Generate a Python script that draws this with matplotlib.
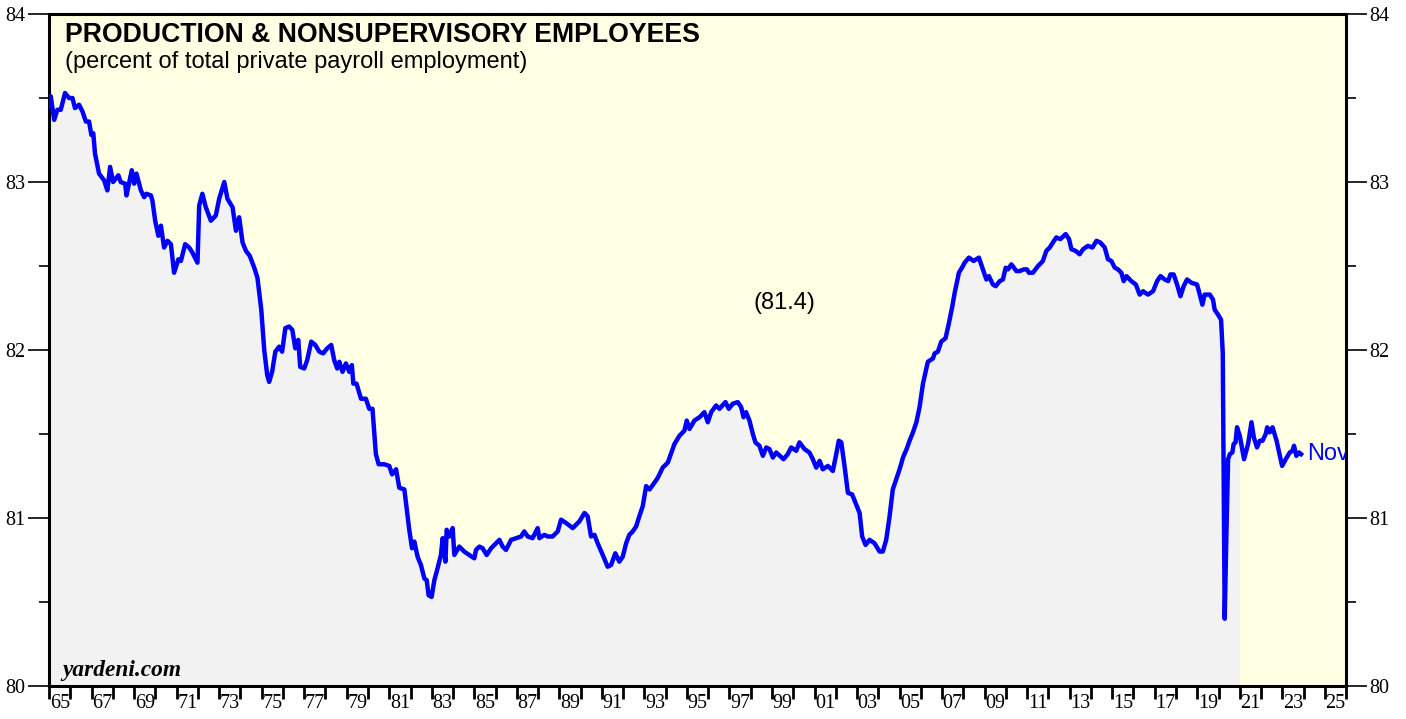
import matplotlib.pyplot as plt
import numpy as np

# Produktions- und nicht-leitende Angestellte, Anteil an privater Beschäftigung (%)
years = [
    1965.00, 1965.08, 1965.24, 1965.39, 1965.55, 1965.75, 1965.94, 1966.10, 1966.22, 1966.41,
    1966.57, 1966.73, 1966.88, 1966.99, 1967.08, 1967.16, 1967.35, 1967.59, 1967.74, 1967.87,
    1968.01, 1968.26, 1968.37, 1968.58, 1968.64, 1968.89, 1969.00, 1969.11, 1969.32, 1969.47,
    1969.58, 1969.79, 1969.86, 1969.99, 1970.14, 1970.26, 1970.41, 1970.57, 1970.73, 1970.88,
    1971.08, 1971.20, 1971.40, 1971.59, 1971.74, 1971.98, 1972.06, 1972.21, 1972.37, 1972.61,
    1972.84, 1973.00, 1973.24, 1973.39, 1973.63, 1973.79, 1973.94, 1974.10, 1974.26, 1974.44,
    1974.65, 1974.80, 1974.98, 1975.12, 1975.26, 1975.35, 1975.49, 1975.64, 1975.82, 1975.96,
    1976.11, 1976.29, 1976.44, 1976.58, 1976.72, 1976.81, 1977.00, 1977.14, 1977.33, 1977.52,
    1977.71, 1977.89, 1978.08, 1978.27, 1978.41, 1978.55, 1978.65, 1978.80, 1978.96, 1979.12,
    1979.24, 1979.31, 1979.46, 1979.67, 1979.90, 1980.06, 1980.21, 1980.37, 1980.50, 1980.76,
    1981.00, 1981.13, 1981.32, 1981.47, 1981.71, 1981.94, 1982.07, 1982.18, 1982.33, 1982.49,
    1982.65, 1982.76, 1982.85, 1982.99, 1983.12, 1983.27, 1983.43, 1983.51, 1983.64, 1983.70,
    1983.82, 1983.98, 1984.06, 1984.29, 1984.53, 1984.76, 1985.00, 1985.08, 1985.24, 1985.39,
    1985.58, 1985.79, 1986.02, 1986.18, 1986.33, 1986.49, 1986.73, 1986.96, 1987.20, 1987.35,
    1987.51, 1987.74, 1987.98, 1988.06, 1988.29, 1988.45, 1988.68, 1988.92, 1989.08, 1989.32,
    1989.63, 1989.94, 1990.18, 1990.33, 1990.49, 1990.65, 1990.80, 1991.04, 1991.27, 1991.43,
    1991.63, 1991.82, 1991.98, 1992.14, 1992.29, 1992.45, 1992.61, 1992.76, 1992.92, 1993.08,
    1993.24, 1993.47, 1993.63, 1993.86, 1994.10, 1994.41, 1994.65, 1994.88, 1994.99, 1995.12,
    1995.35, 1995.59, 1995.82, 1995.98, 1996.14, 1996.37, 1996.53, 1996.81, 1996.97, 1997.15,
    1997.39, 1997.55, 1997.66, 1997.78, 1997.94, 1998.10, 1998.22, 1998.41, 1998.57, 1998.73,
    1998.88, 1999.04, 1999.20, 1999.54, 1999.74, 1999.90, 2000.14, 2000.29, 2000.53, 2000.76,
    2000.92, 2001.08, 2001.24, 2001.39, 2001.63, 2001.86, 2002.02, 2002.14, 2002.26, 2002.41,
    2002.57, 2002.77, 2002.93, 2003.12, 2003.24, 2003.40, 2003.59, 2003.82, 2004.06, 2004.21,
    2004.37, 2004.53, 2004.68, 2004.84, 2005.00, 2005.16, 2005.33, 2005.47, 2005.63, 2005.79,
    2005.94, 2006.10, 2006.33, 2006.57, 2006.65, 2006.80, 2006.96, 2007.16, 2007.32, 2007.48,
    2007.59, 2007.79, 2007.98, 2008.06, 2008.26, 2008.48, 2008.73, 2008.92, 2009.08, 2009.20,
    2009.39, 2009.52, 2009.71, 2009.86, 2009.99, 2010.10, 2010.26, 2010.49, 2010.65, 2010.84,
    2010.99, 2011.08, 2011.27, 2011.51, 2011.74, 2011.90, 2012.06, 2012.21, 2012.37, 2012.56,
    2012.81, 2012.97, 2013.08, 2013.28, 2013.47, 2013.63, 2013.86, 2014.07, 2014.26, 2014.44,
    2014.65, 2014.80, 2014.96, 2015.12, 2015.27, 2015.43, 2015.54, 2015.67, 2015.90, 2016.11,
    2016.29, 2016.45, 2016.68, 2016.92, 2017.11, 2017.27, 2017.47, 2017.63, 2017.74, 2017.89,
    2018.05, 2018.21, 2018.36, 2018.52, 2018.73, 2018.99, 2019.12, 2019.24, 2019.35, 2019.59,
    2019.74, 2019.82, 2019.98, 2020.12, 2020.20, 2020.29, 2020.37, 2020.45, 2020.53, 2020.65,
    2020.71, 2020.80, 2020.87, 2021.00, 2021.20, 2021.39, 2021.55, 2021.66, 2021.81, 2021.94,
    2022.07, 2022.22, 2022.29, 2022.41, 2022.54, 2022.73, 2022.85, 2022.99, 2023.16, 2023.35,
    2023.48, 2023.55, 2023.66, 2023.79, 2023.88,
]
share = [
    83.45, 83.51, 83.37, 83.43, 83.43, 83.53, 83.50, 83.50, 83.44, 83.46,
    83.42, 83.36, 83.36, 83.28, 83.29, 83.17, 83.05, 83.01, 82.95, 83.09,
    83.00, 83.04, 83.00, 82.99, 82.92, 83.07, 82.99, 83.05, 82.95, 82.91,
    82.93, 82.92, 82.89, 82.77, 82.68, 82.74, 82.61, 82.65, 82.63, 82.46,
    82.54, 82.53, 82.63, 82.61, 82.58, 82.52, 82.86, 82.93, 82.85, 82.77,
    82.80, 82.90, 83.00, 82.90, 82.85, 82.71, 82.79, 82.64, 82.59, 82.56,
    82.49, 82.43, 82.24, 82.00, 81.85, 81.81, 81.87, 81.99, 82.02, 81.99,
    82.13, 82.14, 82.12, 82.01, 82.06, 81.90, 81.89, 81.94, 82.05, 82.03,
    81.99, 81.98, 82.01, 82.03, 81.94, 81.89, 81.93, 81.87, 81.92, 81.87,
    81.91, 81.80, 81.80, 81.71, 81.71, 81.65, 81.65, 81.38, 81.32, 81.32,
    81.31, 81.26, 81.29, 81.18, 81.17, 80.93, 80.82, 80.86, 80.77, 80.72,
    80.64, 80.63, 80.54, 80.53, 80.63, 80.70, 80.78, 80.88, 80.74, 80.93,
    80.89, 80.94, 80.78, 80.83, 80.80, 80.78, 80.76, 80.81, 80.83, 80.82,
    80.78, 80.82, 80.85, 80.87, 80.83, 80.81, 80.87, 80.88, 80.89, 80.92,
    80.89, 80.88, 80.94, 80.88, 80.90, 80.89, 80.89, 80.92, 80.99, 80.97,
    80.94, 80.98, 81.03, 81.01, 80.89, 80.90, 80.85, 80.78, 80.71, 80.72,
    80.79, 80.74, 80.77, 80.85, 80.90, 80.92, 80.95, 81.01, 81.07, 81.19,
    81.17, 81.21, 81.24, 81.30, 81.33, 81.44, 81.49, 81.52, 81.58, 81.53,
    81.58, 81.60, 81.63, 81.57, 81.63, 81.67, 81.65, 81.69, 81.65, 81.68,
    81.69, 81.66, 81.60, 81.63, 81.58, 81.50, 81.45, 81.43, 81.37, 81.42,
    81.41, 81.36, 81.39, 81.35, 81.38, 81.42, 81.40, 81.45, 81.41, 81.39,
    81.35, 81.30, 81.34, 81.29, 81.31, 81.28, 81.38, 81.46, 81.45, 81.31,
    81.15, 81.14, 81.09, 81.03, 80.89, 80.84, 80.87, 80.85, 80.80, 80.80,
    80.87, 81.01, 81.17, 81.23, 81.29, 81.36, 81.41, 81.46, 81.51, 81.57,
    81.66, 81.80, 81.93, 81.95, 81.98, 81.99, 82.05, 82.07, 82.16, 82.26,
    82.34, 82.46, 82.50, 82.52, 82.55, 82.53, 82.55, 82.48, 82.42, 82.44,
    82.39, 82.38, 82.41, 82.42, 82.49, 82.48, 82.51, 82.47, 82.47, 82.48,
    82.48, 82.46, 82.46, 82.50, 82.53, 82.59, 82.61, 82.64, 82.67, 82.66,
    82.69, 82.66, 82.60, 82.59, 82.57, 82.60, 82.62, 82.61, 82.65, 82.64,
    82.61, 82.54, 82.53, 82.49, 82.48, 82.46, 82.41, 82.44, 82.41, 82.39,
    82.33, 82.35, 82.33, 82.35, 82.41, 82.44, 82.42, 82.41, 82.45, 82.45,
    82.39, 82.32, 82.38, 82.42, 82.40, 82.39, 82.33, 82.27, 82.33, 82.33,
    82.30, 82.24, 82.21, 82.18, 81.98, 80.40, 80.90, 81.35, 81.38, 81.39,
    81.44, 81.45, 81.54, 81.49, 81.35, 81.44, 81.57, 81.48, 81.42, 81.46,
    81.46, 81.50, 81.54, 81.51, 81.54, 81.46, 81.39, 81.31, 81.35, 81.39,
    81.40, 81.43, 81.37, 81.39, 81.38,
]

fill_end = 2021.0
average = 81.4
year_ticks = list(range(1965, 2027))
label_years = list(range(1965, 2026, 2))
year_labels = [f"{y % 100:02d}" for y in label_years]

x = np.array(years)
y = np.array(share)

fig = plt.figure(figsize=(14.06, 7.19), dpi=100)
ax = fig.add_axes([0.0349, 0.0459, 0.9225, 0.9346])
ax.set_facecolor("#FFFFE3")

# grauer Bereich unter der Linie (bis Ende 2020)
mask = x <= fill_end
ax.fill_between(x[mask], 80, y[mask], color="#F2F2F2", zorder=1, linewidth=0)
ax.plot(x, y, color="#0000FF", linewidth=3.2, zorder=3, solid_joinstyle="round")

ax.set_xlim(1965, 2026)
ax.set_ylim(80, 84)

# Achsen / Ticks
for side in ["left", "right", "top", "bottom"]:
    ax.spines[side].set_linewidth(2.2)
    ax.spines[side].set_color("black")

ax.set_yticks([80, 81, 82, 83, 84])
ax.set_yticks([80.5, 81.5, 82.5, 83.5], minor=True)
ax.tick_params(axis="y", which="major", direction="out", length=15, width=1.2,
               left=True, right=True, labelleft=True, labelright=True,
               labelsize=14.5, pad=2)
ax.tick_params(axis="y", which="minor", direction="out", length=7, width=1.2,
               left=True, right=True)
for lab in ax.get_yticklabels():
    lab.set_family("Liberation Serif")

ax.set_xticks(year_ticks)
ax.set_xticklabels([])
ax.set_xticks([yr + 0.5 for yr in label_years], minor=True)
ax.set_xticklabels(year_labels, minor=True, family="Liberation Serif", fontsize=14.5)
ax.tick_params(axis="x", which="major", direction="out", length=9, width=2)
ax.tick_params(axis="x", which="minor", length=0, pad=6)

# Texte
ax.text(0.012, 0.988, "PRODUCTION & NONSUPERVISORY EMPLOYEES", transform=ax.transAxes,
        fontsize=19.2, fontweight="bold", family="Liberation Sans", va="top", ha="left")
ax.text(0.012, 0.945, "(percent of total private payroll employment)", transform=ax.transAxes,
        fontsize=17, family="Liberation Sans", va="top", ha="left")
ax.text(1999.6, 82.28, f"({average:.1f})", fontsize=17, family="Liberation Sans",
        ha="center", va="center")
ax.text(0.01, 0.008, "yardeni.com", transform=ax.transAxes, fontsize=16.8,
        family="Liberation Serif", fontweight="bold", style="italic", ha="left", va="bottom")
ax.text(years[-1] + 0.3, share[-1], "Nov", color="#0000FF", fontsize=17,
        family="Liberation Sans", ha="left", va="center", clip_on=True)

plt.savefig("out.png", dpi=100)
